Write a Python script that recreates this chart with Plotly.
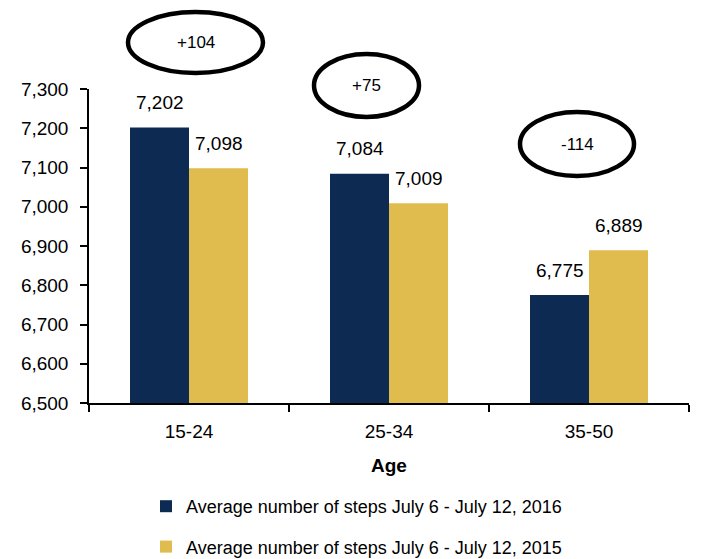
import plotly.graph_objects as go

# Age groups and average daily steps per week
age_groups = ["15-24", "25-34", "35-50"]
steps_2016 = [7202, 7084, 6775]
steps_2015 = [7098, 7009, 6889]
series_names = [
    "Average number of steps July 6 - July 12, 2016",
    "Average number of steps July 6 - July 12, 2015",
]

NAVY = "#0D2B52"
GOLD = "#E0BB4E"
FONT = "Liberation Sans, Arial, sans-serif"

W, H = 701, 559
L, R, T, B = 89, 12, 89, 156
PW, PH = W - L - R, H - T - B


def px_to_paper(x, y):
    return (x - L) / PW, (H - B - y) / PH


fig = go.Figure()
for name, vals, color, grp in [
    (series_names[0], steps_2016, NAVY, "a"),
    (series_names[1], steps_2015, GOLD, "b"),
]:
    fig.add_trace(go.Bar(
        x=age_groups, y=[v - 6500 for v in vals], base=6500,
        name=name, marker=dict(color=color, line=dict(width=0)),
        legendgroup=grp, hoverinfo="skip",
    ))

# value labels above each bar
offset = 0.1475
for i, (a, b) in enumerate(zip(steps_2016, steps_2015)):
    for xv, v in [(i - offset, a), (i + offset, b)]:
        fig.add_annotation(
            x=xv, y=v, xref="x", yref="y", text=f"{v:,}", showarrow=False,
            xanchor="center", yanchor="middle", yshift=25,
            font=dict(family=FONT, size=19, color="#000"),
        )

# year-over-year difference bubbles
ellipses = [(128, 12, 263, 73), (314, 54, 419, 117), (520, 112, 634, 176)]
for (x0, y0, x1, y1), a, b in zip(ellipses, steps_2016, steps_2015):
    px0, py0 = px_to_paper(x0, y0)
    px1, py1 = px_to_paper(x1, y1)
    fig.add_shape(type="circle", xref="paper", yref="paper",
                  x0=px0, x1=px1, y0=py1, y1=py0,
                  line=dict(color="#000", width=4.5))
    cx, cy = px_to_paper((x0 + x1) / 2, (y0 + y1) / 2)
    d = a - b
    fig.add_annotation(x=cx, y=cy, xref="paper", yref="paper",
                       xanchor="center", yanchor="middle",
                       text=f"{d:+d}", showarrow=False,
                       font=dict(family=FONT, size=17, color="#000"))

lx, ly = px_to_paper(146, 488)
fig.update_layout(
    width=W, height=H,
    margin=dict(l=L, r=R, t=T, b=B, pad=0, autoexpand=False),
    paper_bgcolor="white", plot_bgcolor="white",
    font=dict(family=FONT, size=19, color="#000"),
    barmode="group", bargap=0.41, bargroupgap=0,
    showlegend=True,
    legend=dict(x=lx, y=ly, xanchor="left", yanchor="top",
                orientation="v", traceorder="grouped", tracegroupgap=14,
                font=dict(family=FONT, size=18, color="#000"),
                bgcolor="rgba(0,0,0,0)"),
    xaxis=dict(
        showline=True, linecolor="#000", linewidth=1.5,
        ticks="outside", ticklen=7, tickcolor="#000", tickwidth=1.5,
        tickson="boundaries", showgrid=False, zeroline=False,
        ticklabelstandoff=10,
        tickfont=dict(family=FONT, size=19, color="#000"),
        title=dict(text="<b>Age</b>", font=dict(family=FONT, size=19, color="#000"), standoff=18),
    ),
    yaxis=dict(
        range=[6500, 7300], dtick=100, tick0=6500, tickformat=",",
        showline=True, linecolor="#000", linewidth=1.5,
        ticks="outside", ticklen=7, tickcolor="#000", tickwidth=1.5,
        showgrid=False, zeroline=False, ticklabelstandoff=8,
        tickfont=dict(family=FONT, size=19, color="#000"),
    ),
)

fig.write_html("out.html")
